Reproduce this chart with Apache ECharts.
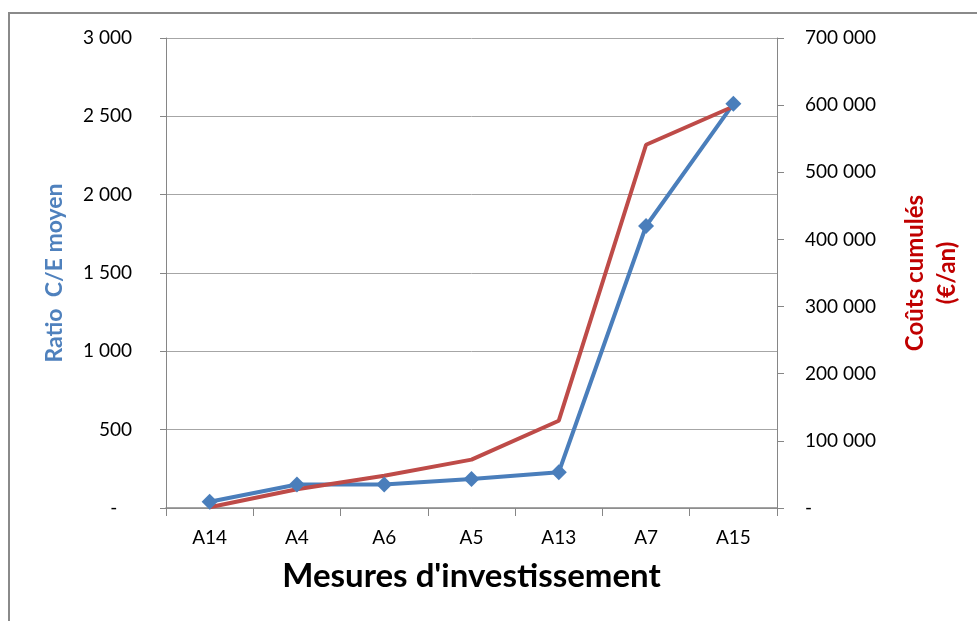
<!DOCTYPE html>
<html>
<head>
<meta charset="utf-8">
<script src="https://cdn.jsdelivr.net/npm/echarts@6/dist/echarts.min.js"></script>
<style>
  html, body { margin: 0; padding: 0; background: #fff; }
  #chart { width: 977px; height: 621px; }
</style>
</head>
<body>
<div id="chart"></div>
<script>
// Investment measures, ordered by average cost/effectiveness ratio
const categories = ['A14', 'A4', 'A6', 'A5', 'A13', 'A7', 'A15'];
// Average C/E ratio (left axis)
const ratioValues = [40, 150, 150, 185, 228, 1800, 2580];
// Cumulated costs in €/year (right axis)
const costValues = [1000, 28000, 48000, 72000, 130000, 541000, 598000];
// Axis ranges and tick steps
const ratioTicks = { min: 0, max: 3000, step: 500 };
const costTicks = { min: 0, max: 700000, step: 100000 };

const FONT = 'Lato, "Open Sans", sans-serif';

function fmtThousands(v) {
  return String(Math.round(v)).replace(/\B(?=(\d{3})+(?!\d))/g, ' ');
}

const chart = echarts.init(document.getElementById('chart'), null, { renderer: 'canvas' });

chart.setOption({
  animation: false,
  backgroundColor: '#ffffff',
  textStyle: { fontFamily: FONT },
  graphic: [{
    type: 'rect',
    shape: { x: 9, y: 13, width: 990, height: 640 },
    style: { fill: 'none', stroke: '#8a8a8a', lineWidth: 2 },
    silent: true
  }],
  grid: { left: 166, right: 200, top: 38, bottom: 113 },
  xAxis: {
    type: 'category',
    data: categories,
    boundaryGap: true,
    name: "Mesures d'investissement",
    nameLocation: 'middle',
    nameGap: 52,
    nameTextStyle: { fontFamily: FONT, fontSize: 33, fontWeight: 'bold', color: '#000' },
    axisLine: { show: true, lineStyle: { color: '#868686', width: 1.5 } },
    axisTick: { show: true, alignWithLabel: false, interval: 0, length: 8, lineStyle: { color: '#868686' } },
    axisLabel: { fontFamily: FONT, fontSize: 19, color: '#000', margin: 20 },
    splitLine: { show: false }
  },
  yAxis: [{
    type: 'value',
    position: 'left',
    min: ratioTicks.min,
    max: ratioTicks.max,
    interval: ratioTicks.step,
    name: 'Ratio  C/E moyen',
    nameLocation: 'middle',
    nameRotate: 90,
    nameGap: 100,
    nameTextStyle: { fontFamily: FONT, fontSize: 23, fontWeight: 'bold', color: '#4f81bd' },
    axisLine: { show: true, lineStyle: { color: '#868686', width: 1 } },
    axisTick: { show: true, length: 6, lineStyle: { color: '#868686' } },
    axisLabel: {
      fontFamily: FONT, fontSize: 19, color: '#000', margin: 34,
      formatter: v => v === 0 ? '-   ' : fmtThousands(v)
    },
    splitLine: { show: true, lineStyle: { color: '#a6a6a6', width: 1 } }
  }, {
    type: 'value',
    position: 'right',
    min: costTicks.min,
    max: costTicks.max,
    interval: costTicks.step,
    name: 'Coûts cumulés\n(€/an)',
    nameLocation: 'middle',
    nameRotate: 90,
    nameGap: 122,
    nameTextStyle: { fontFamily: FONT, fontSize: 24, fontWeight: 'bold', color: '#c00000', lineHeight: 32, align: 'center' },
    axisLine: { show: true, lineStyle: { color: '#868686', width: 1 } },
    axisTick: { show: true, length: 7, lineStyle: { color: '#868686' } },
    axisLabel: {
      fontFamily: FONT, fontSize: 19, color: '#000', margin: 28,
      formatter: v => v === 0 ? '-' : fmtThousands(v)
    },
    splitLine: { show: false }
  }],
  series: [{
    name: 'Ratio C/E moyen',
    type: 'line',
    yAxisIndex: 0,
    data: ratioValues,
    symbol: 'diamond',
    symbolSize: 16,
    showAllSymbol: true,
    itemStyle: { color: '#4a7ebb' },
    lineStyle: { color: '#4a7ebb', width: 4 }
  }, {
    name: 'Coûts cumulés',
    type: 'line',
    yAxisIndex: 1,
    data: costValues,
    symbol: 'none',
    itemStyle: { color: '#be4b48' },
    lineStyle: { color: '#be4b48', width: 4 }
  }]
});
</script>
</body>
</html>
